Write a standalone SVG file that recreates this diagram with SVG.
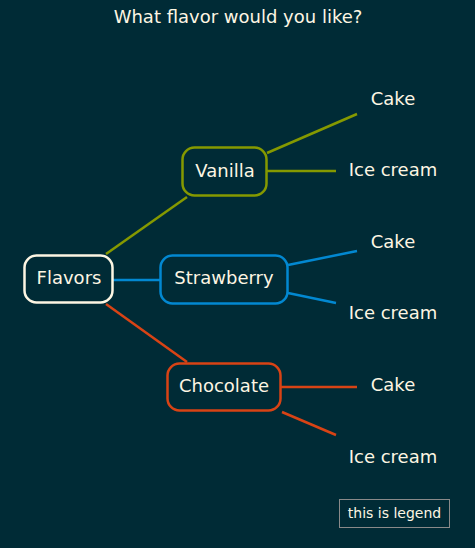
<svg xmlns="http://www.w3.org/2000/svg" width="475" height="548" viewBox="0 0 475 548">
<style>
text{font-family:"DejaVu Sans","Liberation Sans",sans-serif;fill:#fdf6e3;font-size:18px}
.t{text-anchor:middle}
.box{fill:#002b36;stroke-width:2.5}
.c line{stroke-width:2.5;stroke-linecap:butt}
.g{stroke:#859900}.b{stroke:#0288d1}.o{stroke:#d84315}
</style>
<rect width="475" height="548" fill="#002b36"/>
<text class="t" x="238" y="23">What flavor would you like?</text>
<g id="connectors" class="c">
<line class="g" x1="106" y1="254" x2="187" y2="197"/>
<line class="b" x1="113" y1="280" x2="160" y2="280"/>
<line class="o" x1="106" y1="304" x2="187" y2="362"/>
<line class="g" x1="267" y1="153" x2="357" y2="114"/>
<line class="g" x1="267" y1="171" x2="336" y2="171"/>
<line class="b" x1="288" y1="265" x2="357" y2="251"/>
<line class="b" x1="288" y1="293" x2="336" y2="303"/>
<line class="o" x1="281" y1="387" x2="357" y2="387"/>
<line class="o" x1="282" y1="412" x2="336" y2="435"/>
</g>
<g id="flavors"><rect class="box" x="24.5" y="255.5" width="88" height="47" rx="12" stroke="#fdf6e3"/><text class="t" x="69" y="284">Flavors</text></g>
<g id="vanilla"><rect class="box" x="182.5" y="147.5" width="84" height="48" rx="12" stroke="#859900"/><text class="t" x="225" y="177">Vanilla</text></g>
<g id="strawberry"><rect class="box" x="160.5" y="255.5" width="127" height="48" rx="12" stroke="#0288d1"/><text class="t" x="224" y="284">Strawberry</text></g>
<g id="chocolate"><rect class="box" x="167.5" y="363.5" width="113" height="47" rx="12" stroke="#d84315"/><text class="t" x="224" y="392">Chocolate</text></g>
<g id="v-cake"><text class="t" x="393" y="105">Cake</text></g>
<g id="v-ice"><text class="t" x="393" y="176">Ice cream</text></g>
<g id="s-cake"><text class="t" x="393" y="248">Cake</text></g>
<g id="s-ice"><text class="t" x="393" y="319">Ice cream</text></g>
<g id="c-cake"><text class="t" x="393" y="391">Cake</text></g>
<g id="c-ice"><text class="t" x="393" y="463">Ice cream</text></g>
<g id="legend"><rect x="339.5" y="499.5" width="110" height="28" fill="none" stroke="#8a8a8a" stroke-width="1"/><text class="t" x="394.5" y="518" style="font-size:14px">this is legend</text></g>
</svg>
